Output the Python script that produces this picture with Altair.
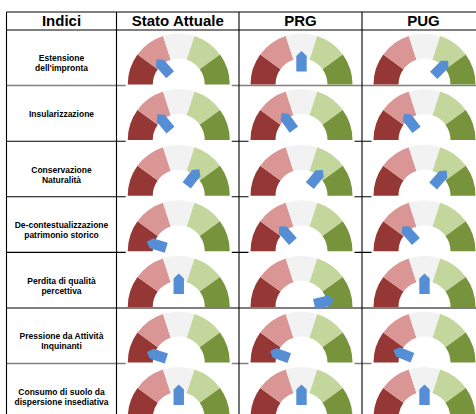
import math
import altair as alt
import pandas as pd

# ---------------- data ----------------
header_first = "Indici"
columns = ["Stato Attuale", "PRG", "PUG"]
row_labels = [
    "Estensione\ndell'impronta",
    "Insularizzazione",
    "Conservazione\nNaturalità",
    "De-contestualizzazione\npatrimonio storico",
    "Perdita di qualità\npercettiva",
    "Pressione da Attività\nInquinanti",
    "Consumo di suolo da\ndispersione insediativa",
]
# needle position on a 0-100 scale (0 = far left / red, 100 = far right / green)
stato_attuale = [27, 28, 71, 9, 50, 10, 50]
prg = [50, 30, 72, 27, 93, 11, 50]
pug = [75, 29, 73, 27, 50, 12, 50]
values = [stato_attuale, prg, pug]

segments = ["s1", "s2", "s3", "s4", "s5"]
segment_colors = ["#953735", "#D99694", "#F2F2F2", "#C3D69B", "#77933C"]
needle_color = "#558ED5"

# ---------------- layout ----------------
W, H = 476, 414
col_edges = [6.5, 116.5, 239, 362, 485]
row_edges = [12, 30, 85.6, 141.2, 196.8, 252.4, 308, 363.6, 419.2]
gray_row_lines = {2, 7}          # indices into row_edges drawn in gray
uncovered = {(0, 1), (0, 2), (4, 0), (4, 1), (4, 2)}
R_OUT, R_IN = 51, 26

xs = alt.Scale(domain=[0, W], nice=False, zero=False)
ys = alt.Scale(domain=[0, H], nice=False, zero=False, reverse=True)


def gx(j):
    return (col_edges[j + 1] + col_edges[j + 2]) / 2 + 1


def gy(i):
    return row_edges[i + 1] + 54.5


# grid lines
hl = []
for k, y in enumerate(row_edges[:-1]):
    hl.append({"x": col_edges[0], "x2": W, "y": y, "y2": y,
               "c": "#808080" if k in gray_row_lines else "#000000",
               "w": 1.5 if k in gray_row_lines else 1.1})
for x in col_edges[:-1]:
    hl.append({"x": x, "x2": x, "y": row_edges[0], "y2": H, "c": "#000000", "w": 1.1})
lines_df = pd.DataFrame(hl)

covers, arcs, needles = [], [], []
for i in range(len(row_labels)):
    for j in range(len(columns)):
        cx, cy = gx(j), gy(i)
        if (i, j) not in uncovered:
            covers.append({"x": cx - 53, "x2": cx + 53, "y": row_edges[i + 2] - 3, "y2": row_edges[i + 2] + 2.5})
        for k, s in enumerate(segments):
            arcs.append({"x": cx, "y": cy, "seg": s,
                         "t0": -math.pi / 2 + k * math.pi / 5,
                         "t1": -math.pi / 2 + (k + 1) * math.pi / 5})
        needles.append({"x": cx, "y": cy, "v": values[j][i]})
covers_df = pd.DataFrame(covers)
arcs_df = pd.DataFrame(arcs)
needles_df = pd.DataFrame(needles)

head_df = pd.DataFrame({
    "x": [(col_edges[j] + col_edges[j + 1]) / 2 for j in range(4)],
    "y": [20.8] * 4,
    "t": [header_first] + columns,
})
lab_df = pd.DataFrame({
    "x": [(col_edges[0] + col_edges[1]) / 2] * len(row_labels),
    "y": [(row_edges[i + 1] + row_edges[i + 2]) / 2 + 0.5 for i in range(len(row_labels))],
    "t": row_labels,
})

# ---------------- chart ----------------
X = lambda f: alt.X(f, scale=xs, axis=None)
Y = lambda f: alt.Y(f, scale=ys, axis=None)

lines = alt.Chart(lines_df).mark_rule().encode(
    x=X("x:Q"), x2="x2:Q", y=Y("y:Q"), y2="y2:Q",
    color=alt.Color("c:N", scale=None),
    strokeWidth=alt.StrokeWidth("w:Q", scale=None),
)

cover = alt.Chart(covers_df).mark_rect(color="white").encode(
    x=X("x:Q"), x2="x2:Q", y=Y("y:Q"), y2="y2:Q"
)

gauge = alt.Chart(arcs_df).mark_arc(radius=R_OUT, innerRadius=R_IN).encode(
    x=X("x:Q"), y=Y("y:Q"),
    theta=alt.Theta("t0:Q", scale=None), theta2="t1:Q",
    color=alt.Color("seg:N", scale=alt.Scale(domain=segments, range=segment_colors), legend=None),
)

needle_path = "M -0.52 -1.3 L -0.52 -2.85 L 0 -3.35 L 0.52 -2.85 L 0.52 -1.3 Z"
needle = alt.Chart(needles_df).mark_point(
    shape=needle_path, filled=True, size=400, opacity=1, color=needle_color, strokeWidth=0
).encode(
    x=X("x:Q"), y=Y("y:Q"),
    angle=alt.Angle("v:Q", scale=alt.Scale(domain=[0, 100], range=[270, 450])),
)

header = alt.Chart(head_df).mark_text(
    font="Liberation Sans", fontSize=15, fontWeight="bold", color="#000000", baseline="middle", align="center"
).encode(x=X("x:Q"), y=Y("y:Q"), text="t:N")

labels = alt.Chart(lab_df).mark_text(
    font="Liberation Sans", fontSize=8.5, fontWeight="bold", color="#000000",
    baseline="middle", align="center", lineBreak="\n", lineHeight=10
).encode(x=X("x:Q"), y=Y("y:Q"), text="t:N")

chart = alt.layer(lines, cover, gauge, needle, header, labels).properties(
    width=W, height=H, padding=0, autosize=alt.AutoSizeParams(type="none"),
    background="white",
).configure_view(stroke=None)

chart.save("out.html", embed_options={"renderer": "svg", "actions": False})
